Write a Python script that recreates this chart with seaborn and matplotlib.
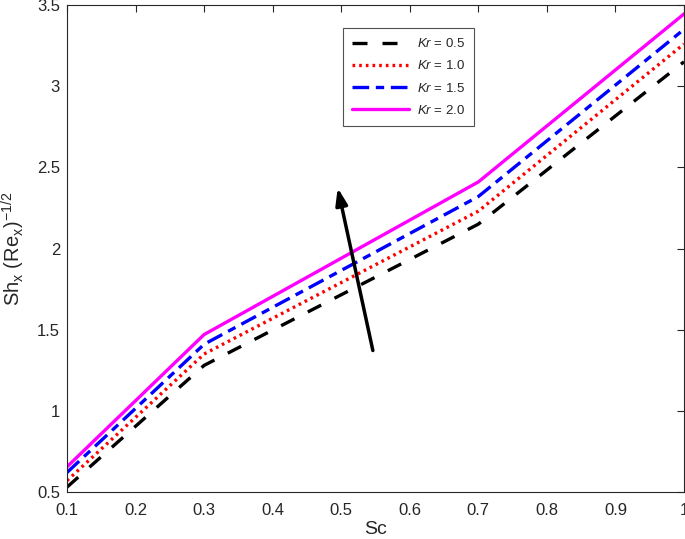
import matplotlib
matplotlib.use("Agg")
import matplotlib.pyplot as plt
import seaborn as sns
import numpy as np
from matplotlib.ticker import FuncFormatter

sc = [0.1, 0.3, 0.7, 1.0]
kr_labels = ["0.5", "1.0", "1.5", "2.0"]
sh_kr05 = [0.53, 1.28, 2.15, 3.15]
sh_kr10 = [0.57, 1.35, 2.23, 3.26]
sh_kr15 = [0.62, 1.41, 2.32, 3.35]
sh_kr20 = [0.655, 1.47, 2.41, 3.445]
series = [sh_kr05, sh_kr10, sh_kr15, sh_kr20]
colors = ["black", "red", "blue", "magenta"]
styles = [(0, (4.5, 4.5)), (0, (0.8, 1.2)), (0, (5, 2, 2.5, 2)), "-"]

sns.set_style("white")
plt.rcParams['font.family'] = ['Liberation Sans', 'DejaVu Sans']
plt.rcParams['mathtext.fontset'] = 'custom'
plt.rcParams['mathtext.rm'] = 'Liberation Sans'
plt.rcParams['mathtext.it'] = 'Liberation Sans:italic'

fig = plt.figure(figsize=(6.85, 5.39), dpi=100)
ax = fig.add_axes([67/685, 1-492/539, 617/685, 487/539])

for y, lab, c, ls in zip(series, kr_labels, colors, styles):
    sns.lineplot(x=sc, y=y, ax=ax, color=c, linestyle=ls, linewidth=2.4,
                 label=f"$Kr$ = {lab}")

ax.set_xlim(0.1, 1.0)
ax.set_ylim(0.5, 3.5)
ax.set_xticks(np.round(np.arange(0.1, 1.01, 0.1), 1))
ax.set_yticks([0.5, 1, 1.5, 2, 2.5, 3, 3.5])
fmt = FuncFormatter(lambda v, p: f"{v:g}")
ax.xaxis.set_major_formatter(fmt)
ax.yaxis.set_major_formatter(fmt)
ax.tick_params(direction='in', top=True, right=True, length=5, width=0.8,
               labelsize=12, colors='#262626')
ax.tick_params(axis='x', pad=8)
ax.tick_params(axis='y', pad=5)
for s in ax.spines.values():
    s.set_color('#262626')
    s.set_linewidth(0.8)
ax.set_xlabel("Sc", fontsize=14, labelpad=2)
ax.set_ylabel(r"Sh$_\mathrm{x}$ (Re$_\mathrm{x}$)$^{-1/2}$", fontsize=14.5, labelpad=7)

ax.annotate("", xy=(0.494, 2.39), xytext=(0.547, 1.355),
            arrowprops=dict(arrowstyle="-|>,head_length=1.0,head_width=0.35",
                            color="black", lw=2.5))

leg = ax.legend(loc='upper left', bbox_to_anchor=(0.447, 0.953),
                borderaxespad=0.0,
                frameon=True, fancybox=False, fontsize=9.5, handlelength=4.3,
                labelspacing=0.7, borderpad=0.7, edgecolor='#262626',
                handletextpad=0.6)
leg.get_frame().set_linewidth(0.8)

fig.savefig("out.png", dpi=100)
